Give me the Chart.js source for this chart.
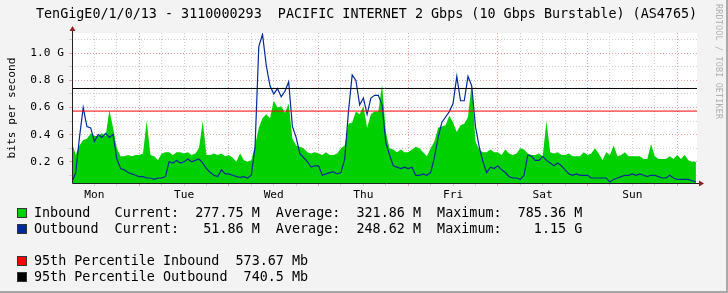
<!DOCTYPE html>
<html lang="en">
<head>
<meta charset="UTF-8">
<title>TenGigE0/1/0/13 - PACIFIC INTERNET</title>
<script src="https://cdn.jsdelivr.net/npm/chart.js"></script>
<style>
  body { margin: 0; background: #f3f3f3; }
  #wrap { position: relative; width: 728px; height: 293px; background: #f3f3f3; overflow: hidden;
          font-family: 'DejaVu Sans Mono', monospace; color: #000; box-sizing: border-box;
          border-right: 2px solid #a8a8a8; border-bottom: 2px solid #a8a8a8; }
  #chart { position: absolute; left: 0; top: 0; }
  .txt { position: absolute; white-space: pre; font-size: 13.4px; line-height: 16px; }
  .sq { position: absolute; width: 10px; height: 10px; box-sizing: border-box; border: 1px solid #333; }
  #credit { position: absolute; left: 714px; top: 4px; writing-mode: vertical-rl; font-size: 8.4px;
            color: #b0b0b0; white-space: pre; letter-spacing: 0.2px; }
</style>
</head>
<body>
<div id="wrap">
  <canvas id="chart" width="728" height="293"></canvas>
  <div class="txt" style="left:36px; top:6px;">TenGigE0/1/0/13 - 3110000293  PACIFIC INTERNET 2 Gbps (10 Gbps Burstable) (AS4765)</div>
  <div id="credit">RRDTOOL / TOBI OETIKER</div>

  <div class="sq" style="left:17px; top:208px; background:#00CF00;"></div>
  <div class="txt" style="left:34px; top:205px;">Inbound   Current:  277.75 M  Average:  321.86 M  Maximum:  785.36 M</div>
  <div class="sq" style="left:17px; top:224px; background:#002A97;"></div>
  <div class="txt" style="left:34px; top:221px;">Outbound  Current:   51.86 M  Average:  248.62 M  Maximum:    1.15 G</div>

  <div class="sq" style="left:17px; top:256px; background:#FF0000;"></div>
  <div class="txt" style="left:34px; top:253px;">95th Percentile Inbound  573.67 Mb</div>
  <div class="sq" style="left:17px; top:272px; background:#000000;"></div>
  <div class="txt" style="left:34px; top:269px;">95th Percentile Outbound  740.5 Mb</div>
</div>
<script>
// one sample per hour, hour 0 = Monday 06:00, values in Gbit/s
const inbound = [
  0.34, 0.25, 0.32, 0.36, 0.37, 0.41, 0.39, 0.39, 0.41, 0.39, 0.58, 0.45,
  0.30, 0.24, 0.24, 0.25, 0.24, 0.25, 0.25, 0.26, 0.50, 0.25, 0.24, 0.21,
  0.26, 0.27, 0.27, 0.25, 0.27, 0.27, 0.26, 0.27, 0.25, 0.26, 0.30, 0.50,
  0.25, 0.25, 0.26, 0.25, 0.26, 0.24, 0.25, 0.23, 0.20, 0.26, 0.21, 0.20,
  0.21, 0.32, 0.45, 0.52, 0.55, 0.52, 0.65, 0.60, 0.61, 0.56, 0.63, 0.37,
  0.32, 0.31, 0.30, 0.27, 0.26, 0.27, 0.26, 0.25, 0.27, 0.25, 0.25, 0.26,
  0.30, 0.32, 0.48, 0.49, 0.57, 0.55, 0.61, 0.45, 0.55, 0.57, 0.57, 0.77,
  0.42, 0.30, 0.29, 0.27, 0.29, 0.27, 0.27, 0.29, 0.31, 0.30, 0.27, 0.24,
  0.30, 0.35, 0.45, 0.46, 0.47, 0.54, 0.49, 0.42, 0.47, 0.48, 0.53, 0.78,
  0.35, 0.29, 0.27, 0.27, 0.29, 0.27, 0.27, 0.25, 0.29, 0.26, 0.25, 0.26,
  0.30, 0.29, 0.26, 0.25, 0.25, 0.26, 0.24, 0.50, 0.27, 0.26, 0.27, 0.25,
  0.25, 0.26, 0.24, 0.24, 0.24, 0.27, 0.25, 0.26, 0.30, 0.26, 0.21, 0.27,
  0.25, 0.32, 0.24, 0.25, 0.27, 0.24, 0.24, 0.24, 0.24, 0.22, 0.22, 0.33,
  0.24, 0.22, 0.22, 0.22, 0.24, 0.22, 0.25, 0.22, 0.25, 0.21, 0.20, 0.20
];
const outbound = [
  0.05, 0.12, 0.38, 0.60, 0.46, 0.45, 0.35, 0.40, 0.38, 0.41, 0.38, 0.40,
  0.22, 0.15, 0.14, 0.12, 0.11, 0.10, 0.09, 0.09, 0.08, 0.08, 0.07, 0.08,
  0.08, 0.09, 0.20, 0.19, 0.21, 0.19, 0.20, 0.22, 0.20, 0.21, 0.22, 0.19,
  0.15, 0.12, 0.10, 0.09, 0.14, 0.11, 0.11, 0.10, 0.09, 0.085, 0.09, 0.08,
  0.10, 0.31, 1.05, 1.14, 0.91, 0.76, 0.70, 0.74, 0.68, 0.72, 0.79, 0.46,
  0.38, 0.26, 0.23, 0.20, 0.16, 0.17, 0.17, 0.10, 0.11, 0.12, 0.125, 0.11,
  0.12, 0.22, 0.57, 0.84, 0.80, 0.62, 0.67, 0.55, 0.67, 0.69, 0.69, 0.62,
  0.34, 0.25, 0.17, 0.16, 0.15, 0.16, 0.15, 0.16, 0.10, 0.10, 0.11, 0.10,
  0.12, 0.23, 0.38, 0.49, 0.53, 0.57, 0.63, 0.83, 0.65, 0.65, 0.83, 0.76,
  0.46, 0.31, 0.20, 0.12, 0.16, 0.15, 0.17, 0.14, 0.12, 0.09, 0.08, 0.08,
  0.07, 0.10, 0.25, 0.24, 0.21, 0.21, 0.24, 0.21, 0.19, 0.17, 0.19, 0.17,
  0.14, 0.11, 0.10, 0.11, 0.10, 0.10, 0.10, 0.08, 0.08, 0.08, 0.08, 0.08,
  0.05, 0.07, 0.08, 0.09, 0.10, 0.10, 0.11, 0.10, 0.11, 0.10, 0.09, 0.10,
  0.10, 0.09, 0.08, 0.08, 0.10, 0.08, 0.07, 0.07, 0.07, 0.07, 0.06, 0.05
];
const p95In = 0.57367;
const p95Out = 0.7405;

const dayLabels = ['Mon', 'Tue', 'Wed', 'Thu', 'Fri', 'Sat', 'Sun'];
const dayLabelHours = [6, 30, 54, 78, 102, 126, 150];   // noon of each day
const dayStartHours = [18, 42, 66, 90, 114, 138, 162];  // midnight lines
const gridHours = [6, 12, 18, 24, 30, 36, 42, 48, 54, 60, 66, 72, 78, 84, 90, 96, 102, 108,
                   114, 120, 126, 132, 138, 144, 150, 156, 162];
const yGridValues = [0.1, 0.2, 0.3, 0.4, 0.5, 0.6, 0.7, 0.8, 0.9, 1.0, 1.1];
const yLabelValues = [0.2, 0.4, 0.6, 0.8, 1.0];
const yLabels = ['0.2 G', '0.4 G', '0.6 G', '0.8 G', '1.0 G'];

const xMax = 167.3;
const yMin = 0.043, yMax = 1.15;

const majorGrid = '#eaa2a2';
const minorGrid = '#cfcfcf';
const axisFont = { family: 'DejaVu Sans Mono', size: 11.2 };

const pts = arr => arr.map((v, i) => ({ x: i, y: v }));
const hrule = v => [{ x: 0, y: v }, { x: xMax, y: v }];
const near = (a, v) => a.some(t => Math.abs(t - v) < 1e-6);

const frame = {
  id: 'frame',
  beforeDraw(chart) {
    const { ctx, chartArea: a } = chart;
    ctx.save();
    ctx.fillStyle = '#ffffff';
    ctx.fillRect(a.left, a.top, a.right - a.left, a.bottom - a.top);
    ctx.restore();
  },
  afterDraw(chart) {
    const { ctx, chartArea: a } = chart;
    const x0 = Math.round(a.left) + 0.5, y0 = Math.round(a.bottom) + 0.5;
    ctx.save();
    ctx.strokeStyle = '#222';
    ctx.lineWidth = 1;
    ctx.beginPath();
    ctx.moveTo(x0, y0); ctx.lineTo(x0, a.top - 3);
    ctx.moveTo(x0, y0); ctx.lineTo(a.right + 3, y0);
    ctx.stroke();
    ctx.fillStyle = '#8e2222';
    ctx.beginPath();
    ctx.moveTo(x0 - 3, a.top - 2); ctx.lineTo(x0 + 3, a.top - 2); ctx.lineTo(x0, a.top - 7);
    ctx.closePath(); ctx.fill();
    ctx.beginPath();
    ctx.moveTo(a.right + 2, y0 - 3); ctx.lineTo(a.right + 2, y0 + 3); ctx.lineTo(a.right + 7, y0);
    ctx.closePath(); ctx.fill();
    ctx.restore();
  }
};

new Chart(document.getElementById('chart'), {
  type: 'line',
  data: {
    datasets: [
      { label: 'Inbound', data: pts(inbound), fill: 'start', backgroundColor: '#00CF00',
        borderWidth: 0, pointRadius: 0, order: 4 },
      { label: 'Outbound', data: pts(outbound), fill: false, borderColor: '#002A97',
        borderWidth: 1.2, pointRadius: 0, order: 3 },
      { label: '95th Percentile Inbound', data: hrule(p95In), borderColor: '#FF0000',
        borderWidth: 1, pointRadius: 0, fill: false, order: 2 },
      { label: '95th Percentile Outbound', data: hrule(p95Out), borderColor: '#000000',
        borderWidth: 1, pointRadius: 0, fill: false, order: 1 }
    ]
  },
  options: {
    responsive: false,
    devicePixelRatio: 1,
    animation: false,
    layout: { padding: { left: 0, top: 33, right: 31, bottom: 90 } },
    plugins: { legend: { display: false }, tooltip: { enabled: false } },
    scales: {
      x: {
        type: 'linear', min: 0, max: xMax, bounds: 'data',
        afterBuildTicks: s => { s.ticks = gridHours.map(v => ({ value: v })); },
        afterFit: s => { s.height = 20; s.paddingLeft = 0; s.paddingRight = 0; },
        grid: {
          color: c => near(dayStartHours, c.tick.value) ? majorGrid : minorGrid,
          tickColor: c => near(dayStartHours, c.tick.value) ? majorGrid : minorGrid,
          tickLength: 3, lineWidth: 1
        },
        border: { display: false, dash: [1, 2] },
        ticks: {
          autoSkip: false, maxRotation: 0, padding: 2, color: '#000', font: axisFont,
          callback: v => { const i = dayLabelHours.indexOf(v); return i >= 0 ? dayLabels[i] : ''; }
        }
      },
      y: {
        type: 'linear', min: yMin, max: yMax, bounds: 'data',
        afterBuildTicks: s => { s.ticks = yGridValues.map(v => ({ value: v })); },
        afterFit: s => { s.width = 72; s.paddingTop = 0; s.paddingBottom = 0; },
        grid: {
          color: c => near(yLabelValues, c.tick.value) ? majorGrid : minorGrid,
          tickColor: c => near(yLabelValues, c.tick.value) ? majorGrid : minorGrid,
          tickLength: 3, lineWidth: 1
        },
        border: { display: false, dash: [1, 2] },
        ticks: {
          autoSkip: false, padding: 5, color: '#000', font: axisFont,
          callback: v => { const i = yLabelValues.findIndex(t => Math.abs(t - v) < 1e-6); return i >= 0 ? yLabels[i] : ''; }
        },
        title: { display: true, text: 'bits per second', color: '#000', font: axisFont,
                 padding: { top: 5, bottom: 0 } }
      }
    }
  },
  plugins: [frame]
});
</script>
</body>
</html>
